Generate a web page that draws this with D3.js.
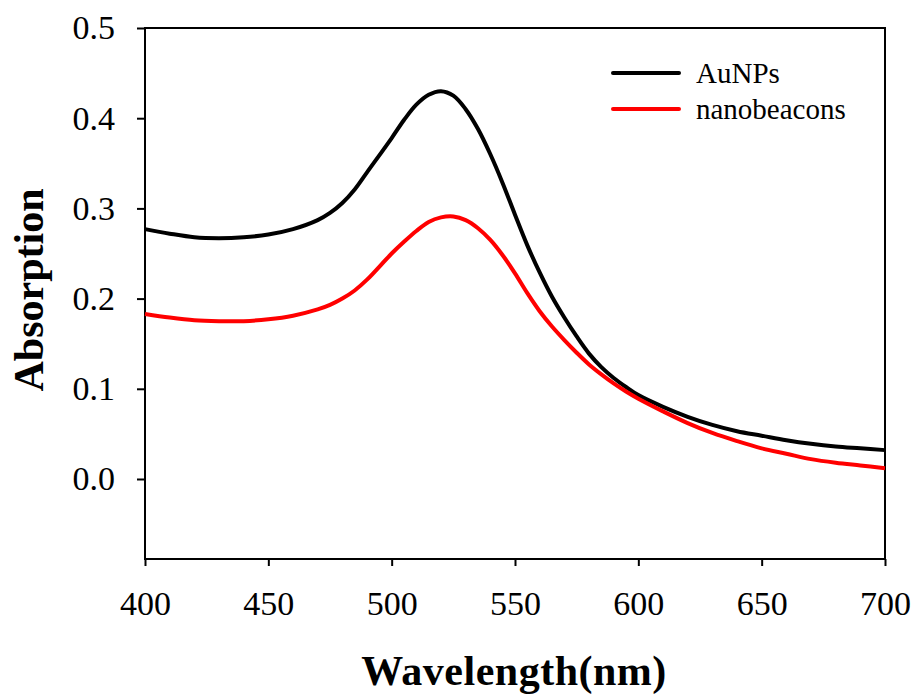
<!doctype html>
<html>
<head>
<meta charset="utf-8"/>
<title>Absorption</title>
<script src="https://d3js.org/d3.v7.min.js"></script>
<style>
  body { margin: 0; background: #fff; }
  text { font-family: "Liberation Serif", "Times New Roman", serif; }
</style>
</head>
<body>
<div id="chart"></div>
<script>
// wavelengths (nm)
var wavelength = [400,410,420,430,440,450,460,470,475,480,485,490,500,505,510,515,520,525,530,535,540,545,
                  550,555,560,565,570,575,580,585,590,595,600,610,620,630,640,650,660,670,680,690,700];
// AuNPs absorption
var aunps = [0.277,0.272,0.268,0.267,0.268,0.271,0.277,0.287,0.295,0.306,0.321,0.340,0.378,0.398,0.415,0.426,0.430,0.425,0.410,0.388,0.360,0.328,
             0.293,0.259,0.229,0.202,0.179,0.158,0.139,0.124,0.112,0.102,0.093,0.080,0.069,0.060,0.053,0.048,0.043,0.039,0.036,0.034,0.032];
// nanobeacons absorption
var beacons = [0.183,0.179,0.176,0.175,0.175,0.177,0.181,0.188,0.193,0.200,0.209,0.221,0.250,0.263,0.275,0.285,0.290,0.291,0.287,0.278,0.265,0.248,
               0.228,0.206,0.186,0.169,0.154,0.140,0.127,0.116,0.106,0.097,0.089,0.075,0.062,0.051,0.042,0.034,0.028,0.022,0.018,0.015,0.012];

var xTicks = [400,450,500,550,600,650,700];
var yTicks = [0.0,0.1,0.2,0.3,0.4,0.5];
var seriesNames = ["AuNPs","nanobeacons"];
var seriesColors = ["#000000","#ff0000"];

var W = 917, H = 695;
var m = {left: 145, top: 28, right: 32, bottom: 136};

var svg = d3.select("#chart").append("svg")
    .attr("width", W).attr("height", H);

var x = d3.scaleLinear().domain([400,700]).range([m.left, W - m.right]);
var y = d3.scaleLinear().domain([-0.0887,0.5]).range([H - m.bottom, m.top]);

// frame
svg.append("rect")
    .attr("x", m.left).attr("y", m.top)
    .attr("width", W - m.left - m.right).attr("height", H - m.top - m.bottom)
    .attr("fill", "none").attr("stroke", "#000").attr("stroke-width", 2);

// axes
var xAxis = svg.append("g")
    .attr("transform", "translate(0," + (H - m.bottom) + ")")
    .call(d3.axisBottom(x).tickValues(xTicks).tickSize(7).tickPadding(23).tickFormat(d3.format("d")));
var yAxis = svg.append("g")
    .attr("transform", "translate(" + m.left + ",0)")
    .call(d3.axisLeft(y).tickValues(yTicks).tickSize(8).tickPadding(22).tickFormat(d3.format(".1f")));

[xAxis, yAxis].forEach(function(g) {
  g.select(".domain").remove();
  g.selectAll(".tick line").attr("stroke", "#000").attr("stroke-width", 2);
  g.selectAll(".tick text").attr("fill", "#000").style("font-size", "34px")
    .style("font-family", '"Liberation Serif", "Times New Roman", serif');
});
xAxis.selectAll(".tick text").attr("dy", "0.75em");

// curves
var line = d3.line()
    .x(function(d) { return x(d[0]); })
    .y(function(d) { return y(d[1]); })
    .curve(d3.curveCatmullRom);

[aunps, beacons].forEach(function(vals, i) {
  svg.append("path")
    .datum(wavelength.map(function(w, j) { return [w, vals[j]]; }))
    .attr("d", line)
    .attr("fill", "none")
    .attr("stroke", seriesColors[i])
    .attr("stroke-width", 4)
    .attr("stroke-linejoin", "round");
});

// legend
seriesNames.forEach(function(name, i) {
  var ly = 73 + i * 36;
  svg.append("line")
    .attr("x1", 613).attr("x2", 679).attr("y1", ly).attr("y2", ly)
    .attr("stroke", seriesColors[i]).attr("stroke-width", 4).attr("stroke-linecap", "round");
  svg.append("text")
    .attr("x", 696).attr("y", ly).attr("dy", "0.35em")
    .style("font-size", "29px")
    .text(name);
});

// axis titles
svg.append("text")
    .attr("x", 514).attr("y", 685)
    .attr("text-anchor", "middle")
    .style("font-size", "42px").style("font-weight", "bold").style("letter-spacing", "0.5px")
    .text("Wavelength(nm)");

svg.append("text")
    .attr("transform", "translate(43,290) rotate(-90)")
    .attr("text-anchor", "middle")
    .style("font-size", "42px").style("font-weight", "bold")
    .text("Absorption");
</script>
</body>
</html>
